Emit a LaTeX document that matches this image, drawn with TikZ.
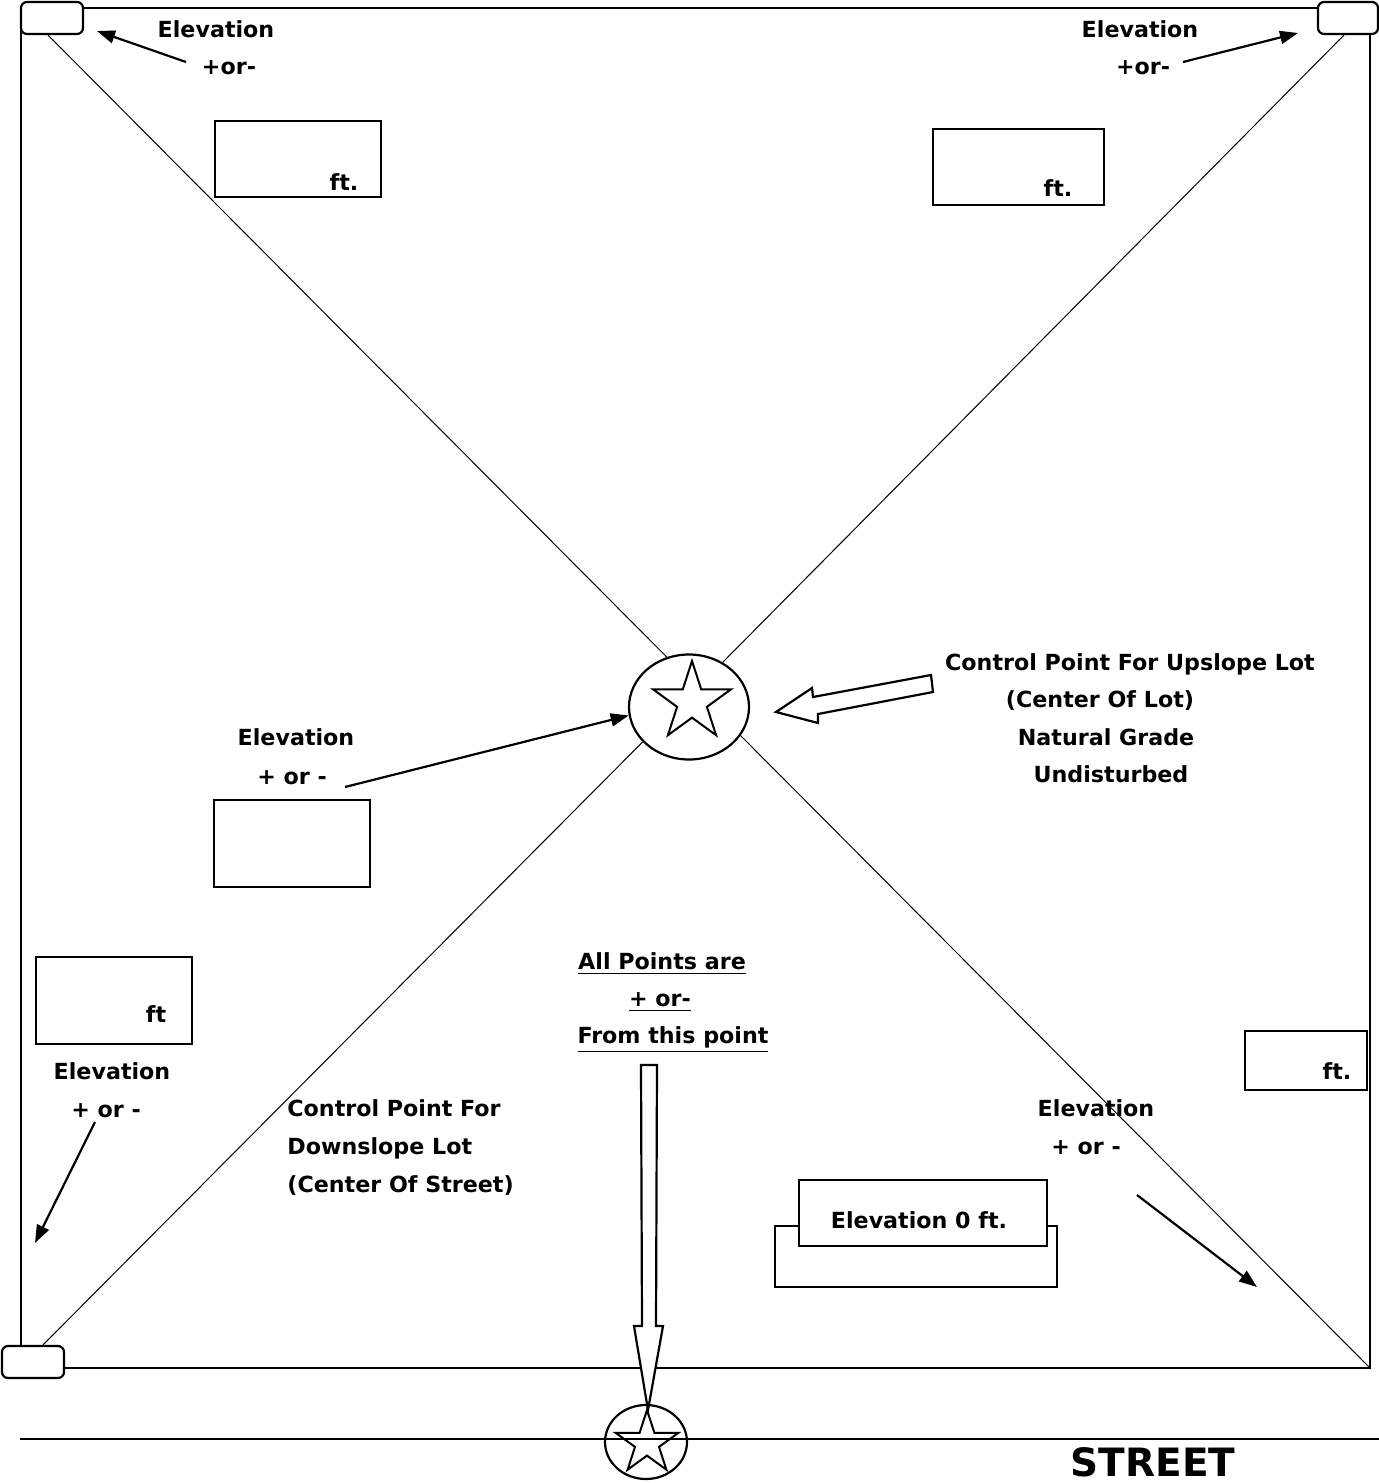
\documentclass[tikz,border=0pt]{standalone}
\usepackage{fontspec}
\setmainfont{DejaVu Sans}
\usetikzlibrary{shapes.geometric,arrows.meta,calc}
\begin{document}
\begin{tikzpicture}[x=0.5pt,y=-0.5pt,
 txt/.style={font=\bfseries\fontsize{11.1}{13}\selectfont, inner sep=0pt, text height=7.9pt, text depth=0pt},
 box/.style={draw, line width=1.1pt, fill=white, inner sep=0pt},
 cbox/.style={draw, line width=1.1pt, rounded corners=3pt, inner sep=0pt, fill=white, minimum width=31pt, minimum height=16pt},
 arr/.style={line width=1.1pt, -{Triangle[length=9pt,width=6.5pt]}},
 diag/.style={line width=0.5pt},
 hollow/.style={draw, line width=1.1pt, fill=white, line join=miter},
 starnode/.style={star, star points=5, star point ratio=2.618, draw, line width=1pt, inner sep=0pt}
]
\useasboundingbox (0,0) rectangle (1379,1483);

% lot outline and street
\draw[line width=1.4pt] (21,8) rectangle (1370,1368);
\coordinate (s1) at (20,1439);
\coordinate (s2) at (1379,1439);
\draw[line width=1.4pt] (s1) -- (s2);

% corner markers
\node[cbox] (tl) at (52,18) {};
\node[cbox, minimum width=30pt] (tr) at (1348,18) {};
\node[cbox] (bl) at (33,1362) {};
\coordinate (br) at (1370,1368);

% center control point
\node[ellipse, draw, line width=1.1pt, minimum width=60pt, minimum height=52.5pt, inner sep=0pt] (c) at (689,707) {};
\node[starnode, minimum size=41pt] (cs) at (692,702) {};

% diagonals
\draw[diag] ([xshift=-2pt]tl.south) -- (c.114);
\draw[diag] ([xshift=-2pt]tr.south) -- (c.53);
\draw[diag] ([xshift=5pt]bl.north) -- (c.217);
\draw[diag] (c.331) -- (br);

% boxes
\node[box, minimum width=83pt, minimum height=38pt] (b1) at (298,159) {};
\node[box, minimum width=85.5pt, minimum height=38pt] (b2) at (1018.5,167) {};
\node[box, minimum width=78pt, minimum height=43.5pt] (b3) at (292,843.5) {};
\node[box, minimum width=78pt, minimum height=43.5pt] (b4) at (114,1000.5) {};
\node[box, minimum width=61pt, minimum height=29.5pt] (b5) at (1306,1060.5) {};
\node[box, minimum width=141pt, minimum height=30.5pt] (b6) at (916,1256.5) {};
\node[box, minimum width=124pt, minimum height=33pt] (b7) at (923,1213) {};

% box texts
\node[txt] (f1) at (344,183) {ft.};
\node[txt] (f2) at (1058,189) {ft.};
\node[txt] (f4) at (156,1015) {ft};
\node[txt] (f5) at (1337,1072) {ft.};
\node[txt] (e0) at (919,1221) {Elevation 0 ft.};

% labels
\node[txt] (tl1) at (216,30) {Elevation};
\node[txt] (tl2) at (229,67) {+or-};
\node[txt] (tr1) at (1140,30) {Elevation};
\node[txt] (tr2) at (1143,67) {+or-};
\node[txt] (u1) at (1130,663) {Control Point For Upslope Lot};
\node[txt] (u2) at (1100,700) {(Center Of Lot)};
\node[txt] (u3) at (1106,738) {Natural Grade};
\node[txt] (u4) at (1111,775) {Undisturbed};
\node[txt] (m1) at (296,738) {Elevation};
\node[txt] (m2) at (292,777) {+ or -};
\node[txt] (p1) at (662,962) {\underline{All Points are}};
\node[txt] (p2) at (660,999) {\underline{+ or-}};
\node[txt] (p3) at (673,1036) {\underline{From this point}};
\node[txt] (l1) at (112,1072) {Elevation};
\node[txt] (l2) at (106,1110) {+ or -};
\node[txt, anchor=west] (d1) at (287,1109) {Control Point For};
\node[txt, anchor=west] (d2) at (287,1147) {Downslope Lot};
\node[txt, anchor=west] (d3) at (287,1185) {(Center Of Street)};
\node[txt] (r1) at (1096,1109) {Elevation};
\node[txt] (r2) at (1086,1147) {+ or -};
\node[font=\bfseries\fontsize{19.5}{22}\selectfont, inner sep=0pt, text height=14pt, text depth=0pt] (st) at (1153,1462) {STREET};

% arrows
\coordinate (a1s) at (186,62);  \coordinate (a1e) at (97,31);
\coordinate (a2s) at (1183,62); \coordinate (a2e) at (1298,33);
\coordinate (a3s) at (345,787);
\coordinate (a4s) at (95,1122); \coordinate (a4e) at (35,1243);
\coordinate (a5s) at (1137,1195); \coordinate (a5e) at (1257,1287);
\draw[arr] (a1s) -- (a1e);
\draw[arr] (a2s) -- (a2e);
\draw[arr] (a3s) -- (c.188);
\draw[arr] (a4s) -- (a4e);
\draw[arr] (a5s) -- (a5e);

% hollow arrow toward center
\draw[hollow] (776,712) -- (812,688) -- (813,697) -- (931,675) -- (933,692) -- (818,714) -- (818,723) -- cycle;

% hollow arrow down to street point
\draw[hollow] (641,1065) -- (657,1065) -- (656,1326) -- (663,1326) -- (648,1410) -- (634,1326) -- (642,1326) -- cycle;

% street control point
\node[ellipse, draw, line width=1.1pt, minimum width=41pt, minimum height=37pt, inner sep=0pt] (b) at (646,1442) {};
\node[starnode, minimum size=33pt] (bs) at (647,1443) {};
\end{tikzpicture}
\end{document}
